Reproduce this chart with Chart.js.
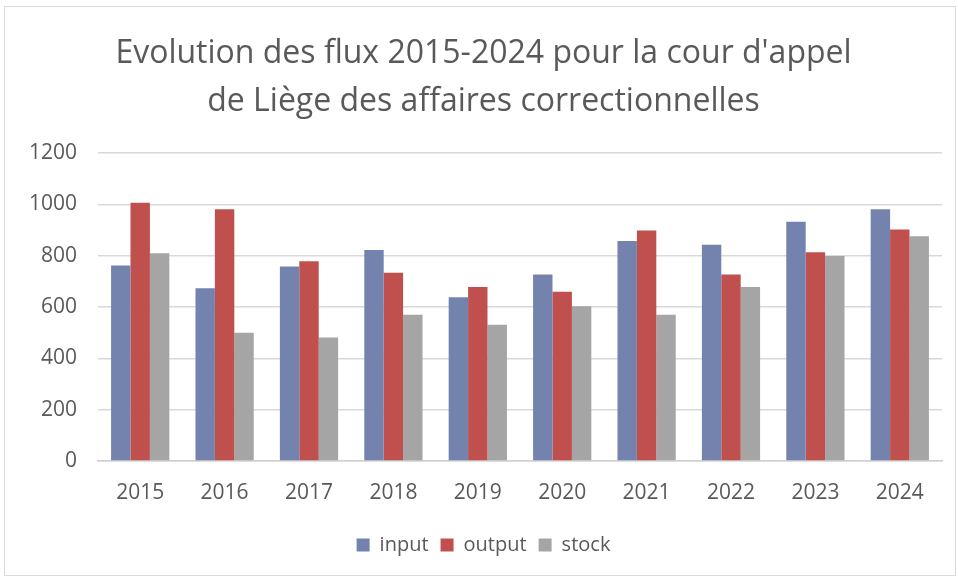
<!DOCTYPE html>
<html>
<head>
<meta charset="utf-8">
<script src="https://cdn.jsdelivr.net/npm/chart.js@4"></script>
<style>
  body { margin: 0; background: #fff; }
  #wrap { position: absolute; left: 4px; top: 6px; width: 950px; height: 568px; border: 1px solid #d9d9d9; }
</style>
</head>
<body>
<div id="wrap"><canvas id="fluxChart" width="950" height="568"></canvas></div>
<script>
// Flux data
const years = ['2015', '2016', '2017', '2018', '2019', '2020', '2021', '2022', '2023', '2024'];
const input = [762, 673, 758, 822, 638, 727, 857, 843, 932, 981];
const output = [1006, 981, 778, 733, 678, 659, 898, 727, 813, 902];
const stock = [809, 500, 481, 570, 531, 603, 570, 678, 799, 876];
const yTicks = [0, 200, 400, 600, 800, 1000, 1200];

const textColor = '#595959';
const fontFamily = '"Open Sans", sans-serif';

document.addEventListener('DOMContentLoaded', function () {
    const ctx = document.getElementById('fluxChart').getContext('2d');
    new Chart(ctx, {
        type: 'bar',
        data: {
            labels: years,
            datasets: [
                { label: 'input', data: input, backgroundColor: '#7383ae' },
                { label: 'output', data: output, backgroundColor: '#c0504d' },
                { label: 'stock', data: stock, backgroundColor: '#a5a5a5' },
            ],
        },
        options: {
            responsive: false,
            animation: false,
            layout: { padding: { left: 20, right: 13, top: 0, bottom: 10 } },
            datasets: { bar: { categoryPercentage: 0.69, barPercentage: 1.0 } },
            plugins: {
                title: {
                    display: true,
                    text: ['Evolution des flux 2015-2024 pour la cour d\'appel', 'de Liège des affaires correctionnelles'],
                    color: textColor,
                    font: { family: fontFamily, size: 32, weight: 'normal', lineHeight: 1.5 },
                    padding: { top: 23, bottom: 27 },
                },
                legend: {
                    position: 'bottom',
                    labels: {
                        color: textColor,
                        font: { family: fontFamily, size: 20 },
                        boxWidth: 13,
                        boxHeight: 13,
                        padding: 12,
                    },
                },
                tooltip: { enabled: false },
            },
            scales: {
                x: {
                    grid: { display: false },
                    border: { color: '#d0d0d0', width: 1.5 },
                    ticks: { color: textColor, font: { family: fontFamily, size: 21 }, padding: 11 },
                    afterFit: function (scale) { scale.height = 62; },
                },
                y: {
                    min: 0,
                    max: 1200,
                    afterBuildTicks: function (scale) { scale.ticks = yTicks.map(v => ({ value: v })); },
                    grid: { color: '#d9d9d9', lineWidth: 1.5, drawTicks: false },
                    border: { display: false },
                    ticks: {
                        color: textColor,
                        font: { family: fontFamily, size: 21 },
                        padding: 21,
                        callback: function (value) { return String(value); },
                    },
                    afterFit: function (scale) { scale.width = 73; },
                },
            },
        },
    });
});
</script>
</body>
</html>
